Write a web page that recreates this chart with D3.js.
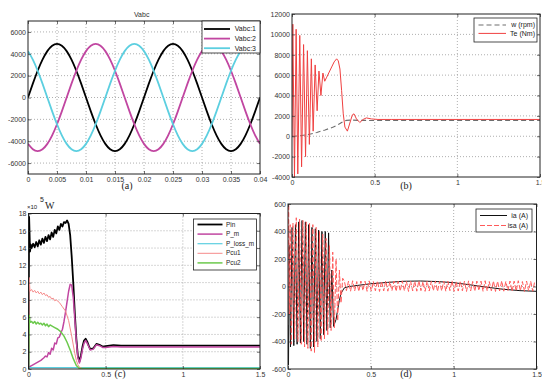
<!DOCTYPE html>
<html>
<head>
<meta charset="utf-8">
<script src="https://cdn.jsdelivr.net/npm/d3@7"></script>
<style>
  body { margin: 0; background: #fff; }
  svg { display: block; font-family: "Liberation Sans", Arial, sans-serif; }
  .tick text { font-size: 7px; fill: #333; }
  .lab { font-family: "Liberation Serif", "Times New Roman", serif; font-size: 10px; fill: #222; }
  .leg { font-size: 7px; fill: #222; }
</style>
</head>
<body>
<svg id="chart" width="542" height="381"></svg>
<script>
// ---------- (a) Vabc, sampled every 0.04/48 s ----------
const vabcStep = 0.04 / 48;
const vabc1 = [0, 1268, 2450, 3465, 4243, 4733, 4900, 4733, 4243, 3465, 2450, 1268,
  0, -1268, -2450, -3465, -4243, -4733, -4900, -4733, -4243, -3465, -2450, -1268,
  0, 1268, 2450, 3465, 4243, 4733, 4900, 4733, 4243, 3465, 2450, 1268,
  0, -1268, -2450, -3465, -4243, -4733, -4900, -4733, -4243, -3465, -2450, -1268, 0];
const vabc2 = [-4243, -4733, -4900, -4733, -4243, -3465, -2450, -1268,
  0, 1268, 2450, 3465, 4243, 4733, 4900, 4733, 4243, 3465, 2450, 1268,
  0, -1268, -2450, -3465, -4243, -4733, -4900, -4733, -4243, -3465, -2450, -1268,
  0, 1268, 2450, 3465, 4243, 4733, 4900, 4733, 4243, 3465, 2450, 1268,
  0, -1268, -2450, -3465, -4243];
const vabc3 = [4243, 3465, 2450, 1268, 0, -1268, -2450, -3465, -4243, -4733, -4900, -4733,
  -4243, -3465, -2450, -1268,
  0, 1268, 2450, 3465, 4243, 4733, 4900, 4733, 4243, 3465, 2450, 1268,
  0, -1268, -2450, -3465, -4243, -4733, -4900, -4733, -4243, -3465, -2450, -1268,
  0, 1268, 2450, 3465, 4243, 4733, 4900, 4733, 4243];
const vabcTicksX = [0, 0.005, 0.01, 0.015, 0.02, 0.025, 0.03, 0.035, 0.04];
const vabcTicksY = [-6000, -4000, -2000, 0, 2000, 4000, 6000];

// ---------- (b) speed and torque [t, value] ----------
const speed = [[0, 0], [0.05, 50], [0.1, 180], [0.15, 370], [0.2, 620], [0.25, 900], [0.28, 1150],
  [0.31, 1450], [0.33, 1560], [0.36, 1590], [0.4, 1560], [0.5, 1550], [1.5, 1550]];
const torque = [[0, 0], [0.005, 11000], [0.015, -4000], [0.025, 10500], [0.035, -3700], [0.047, 9900],
  [0.058, -3000], [0.07, 9000], [0.082, -2000], [0.093, 8400], [0.105, -800], [0.117, 7600],
  [0.128, 500], [0.14, 7000], [0.152, 2500], [0.163, 6400], [0.175, 4000], [0.187, 6200],
  [0.198, 5400], [0.21, 5800], [0.225, 6300], [0.24, 6800], [0.255, 7300], [0.27, 7600],
  [0.28, 7400], [0.29, 6600], [0.3, 4500], [0.31, 2200], [0.32, 900], [0.335, 500], [0.35, 1300],
  [0.365, 2100], [0.375, 2200], [0.39, 1700], [0.41, 1350], [0.43, 1650], [0.45, 1800],
  [0.48, 1700], [0.52, 1650], [0.6, 1650], [1.5, 1650]];
const tTicks = [0, 0.5, 1, 1.5];
const torqueTicksY = [-4000, -2000, 0, 2000, 4000, 6000, 8000, 10000, 12000];

// ---------- (c) powers, x10^5 W [t, value] ----------
const pIn = [[0, 0], [0.004, 17.6], [0.01, 13.6], [0.015, 14.4], [0.02, 14.0], [0.03, 14.5], [0.04, 14.1],
  [0.05, 14.7], [0.06, 14.2], [0.07, 14.9], [0.08, 14.4], [0.09, 15.1], [0.1, 14.6], [0.11, 15.3],
  [0.12, 14.8], [0.13, 15.5], [0.14, 15.0], [0.15, 15.8], [0.16, 15.3], [0.17, 16.1], [0.18, 15.7],
  [0.19, 16.5], [0.2, 16.1], [0.21, 16.8], [0.22, 16.5], [0.23, 17.0], [0.24, 16.9], [0.25, 17.2],
  [0.26, 16.8], [0.27, 15.5], [0.28, 13.0], [0.29, 10.0], [0.3, 6.5], [0.31, 3.5], [0.32, 1.5],
  [0.33, 0.9], [0.34, 1.6], [0.35, 2.6], [0.36, 3.3], [0.37, 3.5], [0.38, 3.2], [0.39, 2.7],
  [0.4, 2.3], [0.42, 2.4], [0.44, 2.9], [0.46, 2.8], [0.48, 2.6], [0.5, 2.65], [0.55, 2.75],
  [0.6, 2.7], [1.5, 2.7]];
const pM = [[0, 0.2], [0.02, 0.4], [0.04, 0.6], [0.06, 0.8], [0.08, 1.0], [0.1, 1.3], [0.11, 1.5],
  [0.12, 1.4], [0.13, 1.9], [0.14, 1.7], [0.15, 2.4], [0.16, 2.2], [0.17, 3.0], [0.18, 2.9],
  [0.19, 3.6], [0.2, 3.7], [0.21, 4.2], [0.22, 4.6], [0.23, 5.5], [0.24, 6.6], [0.25, 7.8],
  [0.26, 9.0], [0.27, 9.8], [0.28, 9.7], [0.29, 8.3], [0.3, 5.8], [0.31, 3.2], [0.32, 1.3],
  [0.33, 0.7], [0.34, 1.3], [0.35, 2.3], [0.36, 3.0], [0.37, 3.3], [0.38, 3.0], [0.39, 2.6],
  [0.4, 2.2], [0.42, 2.3], [0.44, 2.8], [0.46, 2.7], [0.48, 2.5], [0.5, 2.5], [0.55, 2.6],
  [0.6, 2.55], [1.5, 2.55]];
const pLossM = [[0, 0.15], [1.5, 0.15]];
const pCu1 = [[0, 0], [0.004, 10.6], [0.01, 9.0], [0.02, 9.2], [0.03, 8.9], [0.04, 9.1], [0.05, 8.8],
  [0.06, 9.0], [0.07, 8.7], [0.08, 8.9], [0.09, 8.6], [0.1, 8.8], [0.11, 8.5], [0.12, 8.6],
  [0.13, 8.3], [0.14, 8.4], [0.15, 8.1], [0.16, 8.2], [0.17, 7.9], [0.18, 8.0], [0.2, 7.7],
  [0.22, 7.2], [0.24, 6.7], [0.26, 5.6], [0.28, 3.8], [0.3, 1.8], [0.31, 1.0], [0.32, 0.5],
  [0.33, 0.2], [0.35, 0.05], [1.5, 0.05]];
const pCu2 = [[0, 0], [0.002, 3.0], [0.005, 6.2], [0.01, 5.4], [0.02, 5.5], [0.03, 5.3], [0.04, 5.5],
  [0.05, 5.2], [0.06, 5.4], [0.07, 5.2], [0.08, 5.3], [0.09, 5.1], [0.1, 5.3], [0.11, 5.0],
  [0.12, 5.2], [0.13, 4.9], [0.14, 5.1], [0.15, 5.0], [0.17, 4.8], [0.19, 4.6], [0.21, 4.3],
  [0.23, 3.8], [0.25, 3.1], [0.27, 2.2], [0.29, 1.2], [0.31, 0.4], [0.33, 0.05], [1.5, 0.05]];
const powerTicksY = [0, 2, 4, 6, 8, 10, 12, 14, 16, 18];

// ---------- (d) currents [t, value] ----------
const ia = [[0, -280], [0.003, -570], [0.008, 300], [0.015, -440], [0.025, 430], [0.035, -430],
  [0.045, 450], [0.055, -420], [0.065, 470], [0.075, -410], [0.085, 480], [0.095, -400],
  [0.105, 470], [0.115, -420], [0.125, 450], [0.135, -450], [0.145, 430], [0.155, -440],
  [0.165, 420], [0.175, -400], [0.185, 410], [0.195, -380], [0.205, 400], [0.215, -350],
  [0.225, 400], [0.235, -320], [0.245, 390], [0.255, -300], [0.265, 120], [0.275, -290],
  [0.29, -240], [0.3, -170], [0.31, -100], [0.32, -50], [0.34, -10], [0.37, 0], [0.4, 5],
  [0.5, 20], [0.6, 30], [0.7, 38], [0.8, 40], [0.9, 36], [1.0, 28], [1.1, 12], [1.2, -5],
  [1.3, -20], [1.4, -30], [1.5, -35]];
const isaStart = [[0, 0], [0.004, 600], [0.008, -200], [0.013, 450], [0.02, -420], [0.03, 460],
  [0.04, -380], [0.05, 500], [0.06, -400], [0.07, 490], [0.08, -420], [0.09, 480], [0.1, -440],
  [0.11, 470], [0.12, -450], [0.13, 460], [0.14, -470], [0.15, 450], [0.16, -480], [0.17, 430],
  [0.18, -440], [0.19, 400], [0.2, -400], [0.21, 380], [0.22, -380], [0.23, 350], [0.24, -350],
  [0.25, 300], [0.26, -320], [0.27, 250], [0.28, -300], [0.29, 200], [0.3, -250], [0.31, 120],
  [0.32, -120], [0.33, 60]];
// steady part, one sample every 0.0125 s from 0.34 s
const isaTailStep = 0.0125;
const isaTail = [40, -30, 38, -34, 42, -32, 36, -36, 40, -30, 38, -35, 41, -33, 37, -31, 40, -36, 39, -32,
  42, -34, 36, -30, 40, -35, 38, -33, 41, -31, 37, -36, 40, -32, 39, -34, 42, -30, 36, -35,
  40, -33, 38, -31, 41, -36, 37, -32, 40, -34, 39, -30, 42, -35, 36, -33, 40, -31, 38, -36,
  41, -32, 37, -34, 40, -30, 39, -35, 42, -33, 36, -31, 40, -36, 38, -32, 41, -34, 37, -30,
  40, -35, 39, -33, 42, -31, 36, -36, 40, -32, 38, -34, 41];
const currentTicksY = [-600, -400, -200, 0, 200, 400, 600];

const svg = d3.select('#chart');

const numFmt = d => (d === 0 ? '0' : String(+d.toFixed(4)));

function panel(o) {
  const x = d3.scaleLinear().domain(o.xDomain).range([o.x0, o.x1]);
  const y = d3.scaleLinear().domain(o.yDomain).range([o.y1, o.y0]);
  const g = svg.append('g');
  const clipId = 'clip-' + o.key;

  g.append('clipPath').attr('id', clipId).append('rect')
    .attr('x', o.x0).attr('y', o.y0)
    .attr('width', o.x1 - o.x0).attr('height', o.y1 - o.y0);

  // dotted grid
  const gridX = g.append('g');
  gridX.selectAll('line')
    .data(o.xTicks.filter(t => x(t) > o.x0 + 1 && x(t) < o.x1 - 1))
    .join('line')
    .attr('x1', d => x(d)).attr('x2', d => x(d))
    .attr('y1', o.y0).attr('y2', o.y1);
  const gridY = g.append('g');
  gridY.selectAll('line')
    .data(o.yTicks.filter(t => y(t) > o.y0 + 1 && y(t) < o.y1 - 1))
    .join('line')
    .attr('y1', d => y(d)).attr('y2', d => y(d))
    .attr('x1', o.x0).attr('x2', o.x1);
  g.selectAll('line')
    .attr('stroke', '#9a9a9a')
    .attr('stroke-width', 0.8)
    .attr('stroke-dasharray', '1,2');

  // curves
  const line = d3.line().x(d => x(d[0])).y(d => y(d[1]));
  g.append('g').attr('clip-path', `url(#${clipId})`)
    .selectAll('path')
    .data(o.series)
    .join('path')
    .attr('d', s => line.curve(s.curve || d3.curveLinear)(s.data))
    .attr('fill', 'none')
    .attr('stroke', s => s.color)
    .attr('stroke-width', s => s.width)
    .attr('stroke-dasharray', s => s.dash || null)
    .attr('stroke-linejoin', 'round');

  // axes, MATLAB style ticks pointing inwards
  const ax = (axis, tx, ty, labels, ticks) => {
    const a = g.append('g').attr('transform', `translate(${tx},${ty})`)
      .call(axis.tickValues(ticks).tickSizeInner(-3).tickSizeOuter(0).tickPadding(3)
        .tickFormat(labels ? numFmt : ''));
    a.select('.domain').remove();
    a.selectAll('.tick line').attr('stroke', '#333').attr('stroke-width', 0.7);
    return a;
  };
  ax(d3.axisBottom(x), 0, o.y1, true, o.xTicks);
  ax(d3.axisTop(x), 0, o.y0, false, o.xTicks);
  ax(d3.axisLeft(y), o.x0, 0, true, o.yTicks).selectAll('text').attr('x', -2);
  ax(d3.axisRight(y), o.x1, 0, false, o.yTicks);

  g.append('rect')
    .attr('x', o.x0).attr('y', o.y0)
    .attr('width', o.x1 - o.x0).attr('height', o.y1 - o.y0)
    .attr('fill', 'none').attr('stroke', '#222').attr('stroke-width', 1);

  // legend
  const L = o.legend;
  const lg = svg.append('g');
  lg.append('rect')
    .attr('x', L.x).attr('y', L.y).attr('width', L.w).attr('height', L.h)
    .attr('fill', '#fff').attr('stroke', '#222').attr('stroke-width', 0.8);
  const rows = lg.selectAll('g.row').data(o.series).join('g')
    .attr('class', 'row')
    .attr('transform', (s, i) => `translate(0,${L.y + L.first + i * L.gap})`);
  rows.append('line')
    .attr('x1', L.x + L.l0).attr('x2', L.x + L.l1)
    .attr('stroke', s => s.color)
    .attr('stroke-width', s => s.width)
    .attr('stroke-dasharray', s => s.dash || null);
  rows.append('text')
    .attr('class', 'leg')
    .attr('x', L.x + L.tx)
    .attr('dy', '0.33em')
    .attr('text-anchor', L.anchor)
    .style('font-size', (L.font || 7) + 'px')
    .text(s => s.name);

  // panel label
  svg.append('text').attr('class', 'lab')
    .attr('x', o.label[0]).attr('y', o.label[1])
    .attr('text-anchor', 'middle')
    .text(o.label[2]);
}

const vabcT = d3.range(vabc1.length).map(i => i * vabcStep);
const isa = isaStart.concat(isaTail.map((v, i) => [0.34 + i * isaTailStep, v]));

panel({
  key: 'a', x0: 28, x1: 260, y0: 21, y1: 174,
  xDomain: [0, 0.04], yDomain: [-7000, 7000],
  xTicks: vabcTicksX, yTicks: vabcTicksY,
  series: [
    { name: 'Vabc:1', color: '#000000', width: 1.8, curve: d3.curveNatural, data: vabcT.map((t, i) => [t, vabc1[i]]) },
    { name: 'Vabc:2', color: '#c146a1', width: 1.8, curve: d3.curveNatural, data: vabcT.map((t, i) => [t, vabc2[i]]) },
    { name: 'Vabc:3', color: '#5ccfe0', width: 1.8, curve: d3.curveNatural, data: vabcT.map((t, i) => [t, vabc3[i]]) }
  ],
  legend: { x: 202, y: 21, w: 58, h: 32, first: 8, gap: 9.6, l0: 2, l1: 28, tx: 54, anchor: 'end' },
  label: [127, 189, '(a)']
});
svg.append('text').attr('x', 141.7).attr('y', 17).attr('text-anchor', 'middle')
  .attr('font-size', 7).attr('fill', '#333').text('Vabc');

panel({
  key: 'b', x0: 292, x1: 540, y0: 14, y1: 177,
  xDomain: [0, 1.5], yDomain: [-4000, 12000],
  xTicks: tTicks, yTicks: torqueTicksY,
  series: [
    { name: 'w (rpm)', color: '#6e6e6e', width: 1.1, dash: '5,3', data: speed },
    { name: 'Te (Nm)', color: '#f04040', width: 1, data: torque }
  ],
  legend: { x: 474, y: 18, w: 63, h: 24, first: 7, gap: 8.4, l0: 4.5, l1: 32, tx: 61, anchor: 'end' },
  label: [406, 189, '(b)']
});

panel({
  key: 'c', x0: 28.5, x1: 260, y0: 213.5, y1: 369,
  xDomain: [0, 1.5], yDomain: [0, 18],
  xTicks: tTicks, yTicks: powerTicksY,
  series: [
    { name: 'Pin', color: '#000000', width: 1.8, data: pIn },
    { name: 'P_m', color: '#c146a1', width: 1.5, data: pM },
    { name: 'P_loss_m', color: '#5ccfe0', width: 1.2, data: pLossM },
    { name: 'Pcu1', color: '#f58a8a', width: 1, data: pCu1 },
    { name: 'Pcu2', color: '#6cc94d', width: 1.5, data: pCu2 }
  ],
  legend: { x: 193.5, y: 219, w: 63, h: 51, first: 5.5, gap: 9.6, l0: 4, l1: 29, tx: 32.5, anchor: 'start', font: 6.4 },
  label: [120, 377, '(c)']
});
const unit = svg.append('text').attr('y', 209).attr('fill', '#222');
unit.append('tspan').attr('x', 27).attr('font-size', 6).text('×10');
unit.append('tspan').attr('x', 40).attr('dy', -7).attr('font-size', 7).text('5');
unit.append('tspan').attr('x', 45).attr('dy', 7)
  .attr('font-family', '"Liberation Serif", serif').attr('font-size', 10).text('W');

panel({
  key: 'd', x0: 288, x1: 536.5, y0: 204, y1: 369,
  xDomain: [0, 1.5], yDomain: [-600, 600],
  xTicks: tTicks, yTicks: currentTicksY,
  series: [
    { name: 'ia (A)', color: '#111111', width: 1, data: ia },
    { name: 'isa (A)', color: '#ff5a5a', width: 1, dash: '5,2', data: isa }
  ],
  legend: { x: 476, y: 209, w: 56, h: 23, first: 6.5, gap: 10, l0: 4, l1: 31, tx: 52, anchor: 'end' },
  label: [406, 377, '(d)']
});
</script>
</body>
</html>
